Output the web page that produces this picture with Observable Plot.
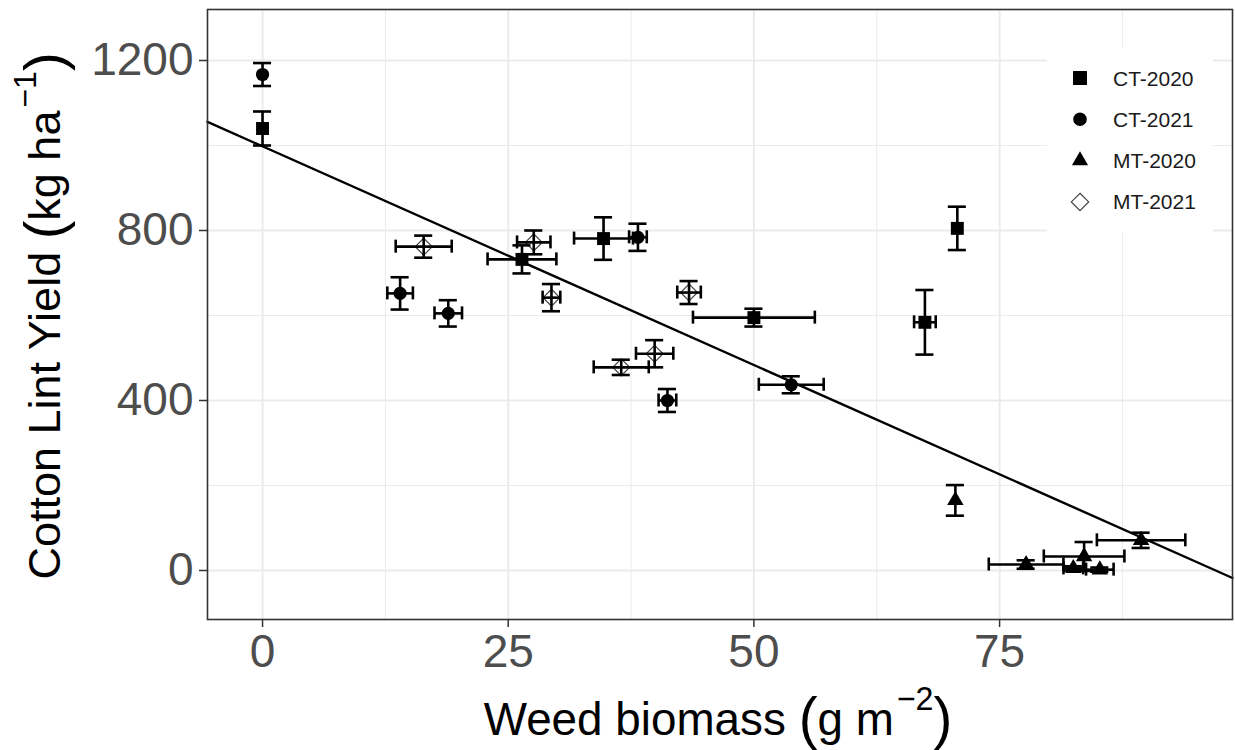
<!DOCTYPE html>
<html><head><meta charset="utf-8">
<script src="https://cdn.jsdelivr.net/npm/d3@7"></script>
<script src="https://cdn.jsdelivr.net/npm/@observablehq/plot@0.6"></script>
<style>
body{margin:0;background:#fff;}
#chart{position:relative;width:1235px;height:750px;}
#chart svg{font-family:"Liberation Sans",Arial,sans-serif;}
[aria-label="x-axis tick label"],[aria-label="y-axis tick label"]{fill:#4d4d4d;font-size:46px;}
[aria-label="x-axis tick"],[aria-label="y-axis tick"]{stroke:#333;stroke-width:1.5px;}
</style></head><body><div id="chart"></div>
<script>
// ---- data ----
const seriesNames = ["CT-2020", "CT-2021", "MT-2020", "MT-2021"];
const seriesSymbols = ["square", "circle", "triangle", "diamond2"];

const ct2020Biomass   = [0, 26.4, 34.7, 50.0, 67.4, 70.7];
const ct2020BiomassSE = [0, 3.5, 3.0, 6.2, 1.1, 0];
const ct2020Yield     = [1040, 732, 781, 595, 584, 805];
const ct2020YieldSE   = [40, 33, 50, 21, 76, 51];

const ct2021Biomass   = [0, 14.0, 18.9, 38.2, 41.2, 53.8];
const ct2021BiomassSE = [0, 1.3, 1.4, 0.9, 0.9, 3.3];
const ct2021Yield     = [1167, 652, 605, 784, 400, 437];
const ct2021YieldSE   = [27, 38, 31, 32, 27, 20];

const mt2020Biomass   = [70.5, 77.7, 82.5, 83.6, 85.2, 89.4];
const mt2020BiomassSE = [0, 3.8, 1.0, 4.1, 1.4, 4.5];
const mt2020Yield     = [165, 14, 5, 33, 2, 71];
const mt2020YieldSE   = [36, 10, 5, 34, 5, 18];

const mt2021Biomass   = [16.4, 27.6, 29.4, 36.5, 39.9, 43.4];
const mt2021BiomassSE = [2.85, 1.7, 0.9, 2.8, 1.9, 1.2];
const mt2021Yield     = [762, 772, 642, 478, 510, 654];
const mt2021YieldSE   = [26, 28, 32, 18, 32, 27];

const fitIntercept = 998;
const fitSlope = -10.29;

const xTicks = [0, 25, 50, 75];
const xMinor = [12.5, 37.5, 62.5, 87.5];
const yTicks = [0, 400, 800, 1200];
const yMinor = [200, 600, 1000];

// ---- build table ----
const groups = [
  [ct2020Biomass, ct2020BiomassSE, ct2020Yield, ct2020YieldSE],
  [ct2021Biomass, ct2021BiomassSE, ct2021Yield, ct2021YieldSE],
  [mt2020Biomass, mt2020BiomassSE, mt2020Yield, mt2020YieldSE],
  [mt2021Biomass, mt2021BiomassSE, mt2021Yield, mt2021YieldSE]
];
const rows = [];
groups.forEach((g, gi) => g[0].forEach((x, i) => rows.push({
  series: seriesNames[gi], x, xse: g[1][i], y: g[2][i], yse: g[3][i]
})));

const xDomain = [-5.6, 98.7];
const yDomain = [-115.3, 1320];
const capX = 0.92;   // half width of vertical error bar caps (x units)
const capY = 15.3;   // half height of horizontal error bar caps (y units)
const fitLine = xDomain.map(x => ({x, y: fitIntercept + fitSlope * x}));

const bySeries = s => rows.filter(d => d.series === s);
const dotR = {"CT-2020": 7.3, "CT-2021": 6.6, "MT-2020": 6.1, "MT-2021": 7.6};

const dotMarks = seriesNames.map((s, i) => Plot.dot(bySeries(s), {
  x: "x", y: "y", symbol: seriesSymbols[i], r: dotR[s],
  fill: s === "MT-2021" ? "none" : "black",
  stroke: s === "MT-2021" ? "#444" : "none",
  strokeWidth: 1.2
}));

const barStyle = {stroke: "black", strokeWidth: 2.6};
const plot = Plot.plot({
  width: 1235, height: 750,
  marginLeft: 207, marginRight: 3, marginTop: 9, marginBottom: 131,
  x: {domain: xDomain},
  y: {domain: yDomain},
  style: {background: "white", overflow: "visible"},
  marks: [
    Plot.gridX(xMinor, {stroke: "#ebebeb", strokeOpacity: 1, strokeWidth: 1}),
    Plot.gridY(yMinor, {stroke: "#ebebeb", strokeOpacity: 1, strokeWidth: 1}),
    Plot.gridX(xTicks, {stroke: "#ebebeb", strokeOpacity: 1, strokeWidth: 2}),
    Plot.gridY(yTicks, {stroke: "#ebebeb", strokeOpacity: 1, strokeWidth: 2}),
    Plot.line(fitLine, {x: "x", y: "y", stroke: "black", strokeWidth: 2.4}),
    ...dotMarks,
    // vertical error bars
    Plot.ruleX(rows, {x: "x", y1: d => d.y - d.yse, y2: d => d.y + d.yse, ...barStyle}),
    Plot.ruleY(rows, {y: d => d.y - d.yse, x1: d => d.x - capX, x2: d => d.x + capX, ...barStyle}),
    Plot.ruleY(rows, {y: d => d.y + d.yse, x1: d => d.x - capX, x2: d => d.x + capX, ...barStyle}),
    // horizontal error bars
    Plot.ruleY(rows.filter(d => d.xse > 0), {y: "y", x1: d => d.x - d.xse, x2: d => d.x + d.xse, ...barStyle}),
    Plot.ruleX(rows.filter(d => d.xse > 0), {x: d => d.x - d.xse, y1: d => d.y - capY, y2: d => d.y + capY, ...barStyle}),
    Plot.ruleX(rows.filter(d => d.xse > 0), {x: d => d.x + d.xse, y1: d => d.y - capY, y2: d => d.y + capY, ...barStyle}),
    Plot.frame({stroke: "#333", strokeWidth: 1.6}),
    Plot.axisX(xTicks, {tickSize: 8, tickPadding: 7, label: null, tickFormat: d => String(d)}),
    Plot.axisY(yTicks, {tickSize: 8, tickPadding: 6, label: null, tickFormat: d => String(d)})
  ]
});
document.getElementById("chart").appendChild(plot);

// ---- axis titles ----
const svg = d3.select(plot);
const xt = svg.append("text")
  .attr("transform", "translate(718,735) scale(0.975,1)")
  .attr("text-anchor", "middle").attr("fill", "black").attr("font-size", 47);
xt.append("tspan").text("Weed biomass ");
xt.append("tspan").attr("font-size", 58).attr("dy", 3).text("(");
xt.append("tspan").attr("dy", -3).text("g m");
xt.append("tspan").attr("font-size", 33).attr("dx", 3).attr("dy", -25).text("\u22122");
xt.append("tspan").attr("font-size", 58).attr("dy", 28).text(")");

const yt = svg.append("text")
  .attr("transform", "translate(60,316) rotate(-90)")
  .attr("text-anchor", "middle").attr("fill", "black").attr("font-size", 45);
yt.append("tspan").text("Cotton Lint Yield ");
yt.append("tspan").attr("font-size", 56).attr("dy", 3).text("(");
yt.append("tspan").attr("dy", -3).text("kg ha");
yt.append("tspan").attr("font-size", 32).attr("dx", 3).attr("dy", -24).text("\u22121");
yt.append("tspan").attr("font-size", 56).attr("dy", 27).text(")");

// ---- legend ----
const lg = svg.append("g").attr("transform", "translate(1047,47)");
lg.append("rect").attr("width", 166).attr("height", 186).attr("fill", "white");
const legendSym = {square: d3.symbolSquare, circle: d3.symbolCircle, triangle: d3.symbolTriangle, diamond2: d3.symbolDiamond2};
seriesNames.forEach((s, i) => {
  const cy = 31 + i * 41.3;
  const r = {"CT-2020": 7.9, "CT-2021": 6.8, "MT-2020": 6.0, "MT-2021": 7.8}[s];
  lg.append("path")
    .attr("transform", `translate(33,${cy})`)
    .attr("d", d3.symbol(legendSym[seriesSymbols[i]], Math.PI * r * r)())
    .attr("fill", s === "MT-2021" ? "white" : "black")
    .attr("stroke", s === "MT-2021" ? "#444" : "none")
    .attr("stroke-width", 1.2);
  lg.append("text").attr("x", 66).attr("y", cy + 7.5)
    .attr("text-anchor", "start")
    .attr("font-size", 21).attr("fill", "#1a1a1a").text(s);
});
</script></body></html>
